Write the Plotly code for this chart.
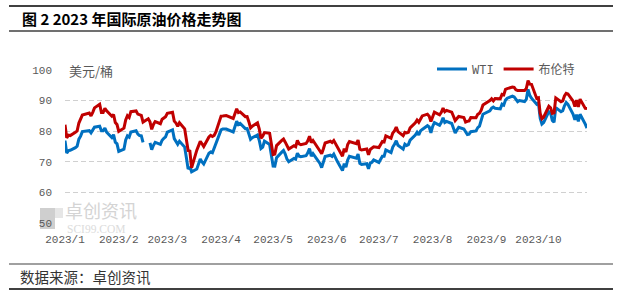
import plotly.graph_objects as go

# ---------------- data ----------------
jan_days = [3, 4, 5, 6, 9, 10, 11, 12, 13, 17, 18, 19, 20, 23, 24, 25, 26, 27, 30, 31]
feb_days = [1, 2, 3, 6, 7, 8, 9, 10, 13, 14, 15, 16, 17, 20, 21, 22, 23, 24, 27, 28]
mar_days = [1, 2, 3, 6, 7, 8, 9, 10, 13, 14, 15, 16, 17, 20, 21, 22, 23, 24, 27, 28, 29, 30, 31]
apr_days = [3, 4, 5, 6, 10, 11, 12, 13, 14, 17, 18, 19, 20, 21, 24, 25, 26, 27, 28]
may_days = [1, 2, 3, 4, 5, 8, 9, 10, 11, 12, 15, 16, 17, 18, 19, 22, 23, 24, 25, 26, 30, 31]
jun_days = [1, 2, 5, 6, 7, 8, 9, 12, 13, 14, 15, 16, 20, 21, 22, 23, 26, 27, 28, 29, 30]
jul_days = [3, 5, 6, 7, 10, 11, 12, 13, 14, 17, 18, 19, 20, 21, 24, 25, 26, 27, 28, 31]
aug_days = [1, 2, 3, 4, 7, 8, 9, 10, 11, 14, 15, 16, 17, 18, 21, 22, 23, 24, 25, 28, 29, 30, 31]
sep_days = [1, 5, 6, 7, 8, 11, 12, 13, 14, 15, 18, 19, 20, 21, 22, 25, 26, 27, 28, 29]
oct_days = [2, 3, 4, 5, 6, 9, 10, 11, 12, 13, 16, 17, 18, 19, 20, 23, 24, 25, 26, 27, 30, 31]

brent = [
    82.10, 77.84, 78.69, 78.57, 79.65, 80.10, 82.67, 83.91, 85.28, 85.92, 84.98, 86.16, 87.63, 88.80, 86.13, 86.12, 87.47, 86.66, 84.90, 85.46,
    82.84, 82.17, 79.94, 80.99, 83.69, 85.09, 84.50, 86.39, 86.61, 85.58, 85.38, 85.14, 83.00, 84.07, 83.05, 80.60, 82.21, 83.16, 82.45, 83.89,
    84.31, 84.75, 85.83, 86.18, 83.29, 82.66, 81.59, 82.78, 80.77, 77.45, 73.69, 73.50, 68.00, 73.79, 75.32, 76.69, 75.91, 74.99, 78.12, 78.65, 78.28, 78.60, 79.77,
    84.93, 84.94, 84.99, 85.12, 84.18, 85.61, 87.33, 86.09, 86.31, 84.76, 84.77, 83.12, 81.10, 81.66, 82.73, 80.77, 77.69, 78.37, 79.54,
    79.31, 75.32, 72.33, 72.50, 75.30, 77.01, 77.44, 76.41, 74.98, 74.17, 75.23, 74.91, 76.96, 75.86, 75.58, 75.99, 76.84, 78.36, 76.26, 76.95, 73.54, 72.66,
    74.28, 76.13, 76.71, 76.29, 76.95, 75.96, 74.79, 71.84, 74.29, 73.20, 75.67, 76.61, 75.90, 77.12, 74.14, 73.85, 74.18, 72.26, 74.03, 74.34, 74.90,
    74.65, 76.65, 76.52, 78.47, 77.69, 79.40, 80.11, 81.36, 79.87, 78.50, 79.63, 79.46, 79.64, 81.07, 82.74, 83.64, 82.92, 84.24, 84.99, 85.56,
    84.91, 83.20, 85.14, 86.24, 85.34, 86.17, 87.55, 86.40, 86.81, 86.21, 84.89, 83.45, 84.12, 84.80, 84.46, 82.98, 83.21, 83.36, 84.48, 84.42, 85.49, 85.86, 86.86,
    88.55, 90.04, 90.60, 89.92, 90.65, 90.64, 92.06, 91.88, 93.70, 93.93, 94.43, 94.34, 93.53, 93.30, 93.27, 93.29, 93.96, 96.55, 95.38, 95.31,
    90.71, 90.92, 85.81, 84.07, 84.58, 88.15, 87.65, 85.82, 86.00, 90.89, 89.65, 89.90, 91.50, 92.38, 92.16, 89.83, 88.07, 90.13, 87.93, 90.48, 87.45, 87.41,
]

wti = [
    76.93, 72.84, 73.67, 73.77, 74.63, 75.12, 77.41, 78.39, 79.86, 80.18, 79.48, 80.33, 81.31, 81.62, 80.13, 80.15, 81.01, 79.68, 77.90, 78.87,
    76.41, 75.88, 73.39, 74.11, 77.14, 78.47, 78.06, 79.72, 80.14, 79.06, 78.59, 78.49, 76.34, None, 76.16, 73.95, 75.39, 76.32, 75.68, 77.05,
    77.69, 78.16, 79.68, 80.46, 77.58, 76.66, 75.72, 76.68, 74.80, 71.33, 67.61, 68.35, 66.74, 67.64, 69.33, 70.90, 69.96, 69.26, 72.81, 73.20, 72.97, 74.37, 75.67,
    80.42, 80.71, 80.61, 80.70, 79.74, 81.53, 83.26, 82.16, 82.52, 80.83, 80.86, 79.16, 77.37, 77.87, 78.76, 77.07, 74.30, 74.76, 76.78,
    75.66, 71.66, 68.60, 68.56, 71.34, 73.16, 73.71, 72.56, 70.87, 70.04, 71.11, 70.86, 72.83, 71.86, 71.69, 71.99, 72.91, 74.34, 71.83, 72.67, 69.46, 68.09,
    70.10, 71.74, 72.15, 71.74, 72.53, 71.29, 70.17, 67.12, 69.42, 68.27, 70.62, 71.78, 71.19, 72.53, 69.51, 69.16, 69.37, 67.70, 69.56, 69.86, 70.64,
    69.79, 71.79, 71.80, 73.86, 72.99, 74.83, 75.75, 76.89, 75.42, 74.15, 75.75, 75.35, 75.63, 77.07, 78.74, 79.63, 78.78, 80.09, 80.58, 81.80,
    81.37, 79.49, 81.55, 82.82, 81.94, 82.92, 84.40, 82.82, 83.19, 82.51, 80.99, 79.38, 80.39, 81.25, 80.72, 79.64, 78.89, 79.05, 79.83, 80.10, 81.16, 81.63, 83.63,
    85.55, 86.69, 87.54, 87.87, 87.51, 87.29, 88.84, 88.52, 90.16, 90.77, 91.48, 91.20, 90.28, 89.63, 90.03, 89.68, 90.39, 93.68, 91.71, 90.79,
    88.82, 89.23, 84.22, 82.31, 82.79, 86.38, 85.97, 83.49, 82.91, 87.69, 86.35, 86.66, 88.32, 89.37, 88.75, 85.49, 83.74, 85.39, 83.21, 85.54, 82.31, 81.02,
]

tick_vals = ["2023-%02d-03" % m for m in range(1, 11)]
tick_text = ["2023/%d" % m for m in range(1, 11)]
y_ticks = [50, 60, 70, 80, 90, 100]

series_names = ["WTI", "布伦特"]
series_colors = ["#0070C0", "#C00000"]

title_text = "图 2 2023 年国际原油价格走势图"
unit_text = "美元/桶"
source_text = "数据来源：卓创资讯"
wm_cn = "卓创资讯"
wm_en = "SCI99.COM"

# ---------------- build ----------------
month_lists = [jan_days, feb_days, mar_days, apr_days, may_days,
               jun_days, jul_days, aug_days, sep_days, oct_days]
dates = []
for mi, days in enumerate(month_lists, start=1):
    for d in days:
        dates.append("2023-%02d-%02d" % (mi, d))

W, H = 622, 293
L, R, T, B = 65, 587, 70, 223


def px(x):
    return (x - L) / (R - L)


def py(y):
    return (B - y) / (B - T)


fig = go.Figure()
for name, vals, col in zip(series_names, [wti, brent], series_colors):
    fig.add_trace(go.Scatter(
        x=dates, y=vals, name=name, mode="lines",
        line=dict(color=col, width=3), connectgaps=False,
    ))

mono = "Liberation Mono, Noto Sans CJK SC, monospace"
cjk = "Noto Sans CJK SC, sans-serif"

shapes = [
    dict(type="line", xref="paper", yref="paper", x0=px(9), x1=px(613), y0=py(6), y1=py(6),
         line=dict(color="#000000", width=1.5)),
    dict(type="line", xref="paper", yref="paper", x0=px(9), x1=px(613), y0=py(31), y1=py(31),
         line=dict(color="#707070", width=1.8)),
    dict(type="line", xref="paper", yref="paper", x0=px(9), x1=px(613), y0=py(264), y1=py(264),
         line=dict(color="#808080", width=1.3)),
    dict(type="line", xref="paper", yref="paper", x0=px(9), x1=px(613), y0=py(289), y1=py(289),
         line=dict(color="#000000", width=1.3)),
    # watermark logo blocks
    dict(type="rect", xref="paper", yref="paper", x0=px(40), x1=px(55), y0=py(229), y1=py(208),
         fillcolor="#cfcfcf", line=dict(width=0), layer="below"),
    dict(type="rect", xref="paper", yref="paper", x0=px(55), x1=px(63), y0=py(218), y1=py(208),
         fillcolor="#e6e6e6", line=dict(width=0), layer="below"),
]

annotations = [
    dict(text=title_text, x=px(20), y=py(18), xref="paper", yref="paper",
         xanchor="left", yanchor="middle", showarrow=False,
         font=dict(family=cjk, size=15, color="#000000", weight="bold")),
    dict(text=unit_text, x=px(67), y=py(70), xref="paper", yref="paper",
         xanchor="left", yanchor="middle", showarrow=False,
         font=dict(family=cjk, size=13, color="#595959")),
    dict(text=source_text, x=px(18), y=py(276), xref="paper", yref="paper",
         xanchor="left", yanchor="middle", showarrow=False,
         font=dict(family=cjk, size=14.5, color="#333333")),
    dict(text=wm_cn, x=px(64), y=py(209.5), xref="paper", yref="paper",
         xanchor="left", yanchor="middle", showarrow=False, borderpad=0,
         font=dict(family=cjk, size=18, color="#d4d4d4")),
    dict(text=wm_en, x=px(66), y=py(229), xref="paper", yref="paper",
         xanchor="left", yanchor="middle", showarrow=False, borderpad=0,
         font=dict(family="Liberation Serif, serif", size=11.5, color="#dcdcdc")),
]

fig.update_layout(
    width=W, height=H,
    margin=dict(l=L, r=W - R, t=T, b=H - B, pad=0),
    paper_bgcolor="white", plot_bgcolor="white",
    showlegend=True,
    legend=dict(orientation="h", x=px(432), y=py(69), xanchor="left", yanchor="middle",
                bgcolor="rgba(0,0,0,0)", borderwidth=0,
                font=dict(family=mono, size=12, color="#595959"),
                itemwidth=30, tracegroupgap=0),
    shapes=shapes,
    annotations=annotations,
    xaxis=dict(type="date", range=["2023-01-03", "2023-10-31"],
               tickmode="array", tickvals=tick_vals, ticktext=tick_text,
               showgrid=False, zeroline=False, showline=False, ticks="",
               ticklabelstandoff=8,
               tickfont=dict(family=mono, size=11, color="#595959")),
    yaxis=dict(range=[50, 100], tickvals=y_ticks, showgrid=True,
               gridcolor="#d0d0d0", gridwidth=1, griddash="5px,3px",
               zeroline=False, showline=False, ticks="",
               ticklabelstandoff=12,
               tickfont=dict(family=mono, size=11, color="#595959")),
)

fig.write_html("out.html")
